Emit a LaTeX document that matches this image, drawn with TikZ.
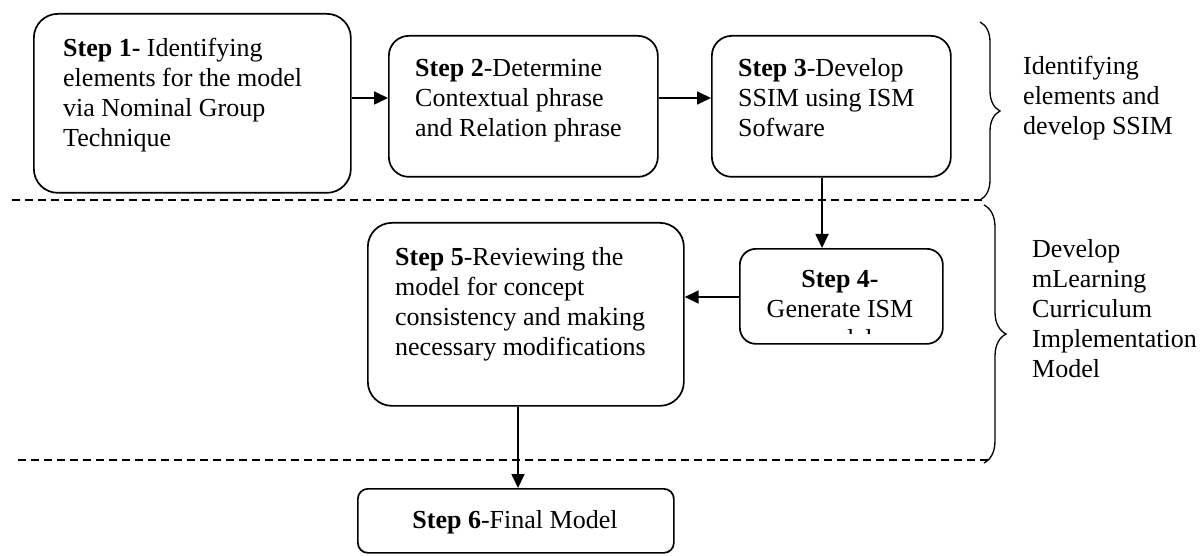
\documentclass[tikz,border=0pt]{standalone}
\usepackage{fontspec}
\setmainfont{Liberation Serif}
\usetikzlibrary{arrows.meta,decorations.pathreplacing}
\begin{document}
\begin{tikzpicture}[x=1pt,y=-1pt,
  every node/.style={font=\fontsize{26}{30}\selectfont},
  stepbox/.style={draw,line width=1.7pt,rounded corners=#1,anchor=north west,inner sep=0pt},
  steptext/.style={anchor=base west,align=left,inner sep=0pt},
  arr/.style={line width=1.7pt,-{Triangle[length=14pt,width=13pt]}},
  sep/.style={line width=1.3pt,dash pattern=on 8pt off 5pt},
  brc/.style={line width=1.3pt,decorate,decoration={brace,amplitude=#1}}]
\useasboundingbox (0,0) rectangle (1202,556);
% boxes
\node[stepbox=24pt,minimum width=317pt,minimum height=179pt] (s1) at (33,13) {};
\node[stepbox=20pt,minimum width=269pt,minimum height=141pt] (s2) at (388,35) {};
\node[stepbox=20pt,minimum width=239pt,minimum height=141pt] (s3) at (711,35) {};
\node[stepbox=16pt,minimum width=203pt,minimum height=95pt] (s4) at (739,248) {};
\node[stepbox=24pt,minimum width=316pt,minimum height=183pt] (s5) at (367,222) {};
\node[stepbox=10pt,minimum width=316pt,minimum height=64pt] (s6) at (357,488) {};
% texts (anchored at the baseline of their last line)
\node[steptext] (t1) at (63,147) {\textbf{Step 1-} Identifying\\elements for the model\\via Nominal Group\\Technique};
\node[steptext] (t2) at (415,137) {\textbf{Step 2}-Determine\\Contextual phrase\\and Relation phrase};
\node[steptext] (t3) at (738,137) {\textbf{Step 3}-Develop\\SSIM using ISM\\Sofware};
\node[anchor=base,align=center,inner sep=0pt] (t4) at (840,317) {\textbf{Step 4-}\\Generate ISM};
\begin{scope}
\clip (741,250) rectangle (940,333);
\node[anchor=base,inner sep=0pt] (t4b) at (840,347) {model};
\end{scope}
\node[steptext] (t5) at (395,355) {\textbf{Step 5}-Reviewing the\\model for concept\\consistency and making\\necessary modifications};
\node[anchor=base,inner sep=0pt] (t6) at (515,528) {\textbf{Step 6}-Final Model};
% arrows
\draw[arr] (s1.east |- 0,98) -- (s2.west |- 0,98);
\draw[arr] (s2.east |- 0,98) -- (s3.west |- 0,98);
\draw[arr] (s3.south -| 822,0) -- (s4.north -| 822,0);
\draw[arr] (s4.west |- 0,297) -- (s5.east |- 0,297);
\draw[arr] (s5.south -| 518,0) -- (s6.north -| 518,0);
% separators
\coordinate (d1a) at (12,200); \coordinate (d1b) at (983,200);
\coordinate (d2a) at (18,460); \coordinate (d2b) at (990,460);
\draw[sep] (d1a) -- (d1b);
\draw[sep] (d2a) -- (d2b);
% braces
\coordinate (b1a) at (980,22); \coordinate (b1b) at (980,200);
\coordinate (b2a) at (984,205); \coordinate (b2b) at (984,463);
\draw[brc=20pt] (b1a) -- (b1b);
\draw[brc=22pt] (b2a) -- (b2b);
% labels
\node[steptext] (l1) at (1023,135) {Identifying\\elements and\\develop SSIM};
\node[steptext] (l2) at (1032,377) {Develop\\mLearning\\Curriculum\\Implementation\\Model};
\end{tikzpicture}
\end{document}
